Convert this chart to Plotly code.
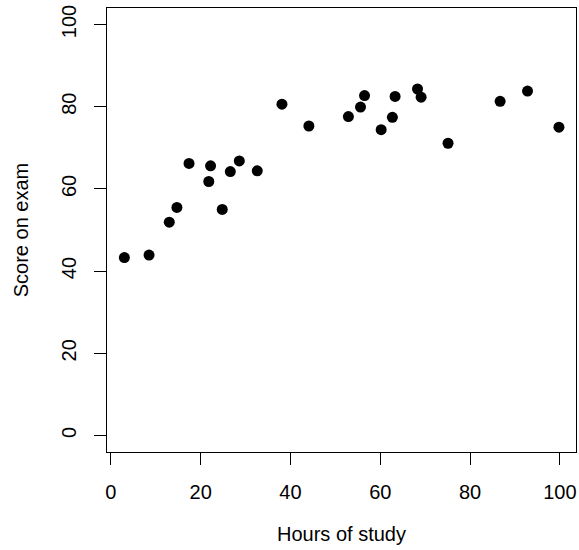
import plotly.graph_objects as go

hours = [3.0, 8.5, 13.0, 14.7, 17.4, 21.8, 22.2, 24.8, 26.6, 28.6, 32.6, 38.1, 44.1,
         52.9, 55.6, 56.5, 60.2, 62.7, 63.3, 68.3, 69.1, 75.1, 86.7, 92.8, 99.8]
score = [43.3, 43.9, 51.9, 55.5, 66.2, 61.8, 65.6, 55.0, 64.2, 66.8, 64.4, 80.6, 75.3,
         77.6, 79.9, 82.7, 74.4, 77.4, 82.5, 84.3, 82.3, 71.1, 81.3, 83.8, 75.0]
x_ticks = [0, 20, 40, 60, 80, 100]
y_ticks = [0, 20, 40, 60, 80, 100]

fig = go.Figure(go.Scatter(
    x=hours, y=score, mode="markers",
    marker=dict(color="black", size=11, line=dict(width=0)),
    hoverinfo="x+y"))

font = dict(family="Liberation Sans, Arial, sans-serif", size=20, color="black")

fig.update_layout(
    width=579, height=550,
    margin=dict(l=107, r=3, t=8, b=98),
    plot_bgcolor="white", paper_bgcolor="white",
    font=font, showlegend=False,
    xaxis=dict(range=[-0.87, 103.6], tickvals=x_ticks, ticktext=[str(v) for v in x_ticks],
               showgrid=False, zeroline=False, showline=True, mirror=True,
               linecolor="black", linewidth=1, ticks="outside", ticklen=12,
               tickcolor="black", tickwidth=1, ticklabelstandoff=10,
               title=dict(text="Hours of study", standoff=24, font=font),
               automargin=False),
    yaxis=dict(range=[-4, 104], tickvals=y_ticks, ticktext=[str(v) for v in y_ticks],
               showgrid=False, zeroline=False, showline=True, mirror=True,
               linecolor="black", linewidth=1, ticks="outside", ticklen=12,
               tickcolor="black", tickwidth=1, tickangle=-90, ticklabelstandoff=10,
               title=dict(text="Score on exam", standoff=24, font=font),
               automargin=False),
)

fig.write_html("out.html", config={"displayModeBar": False},
               post_script="document.body.style.margin='0';")
